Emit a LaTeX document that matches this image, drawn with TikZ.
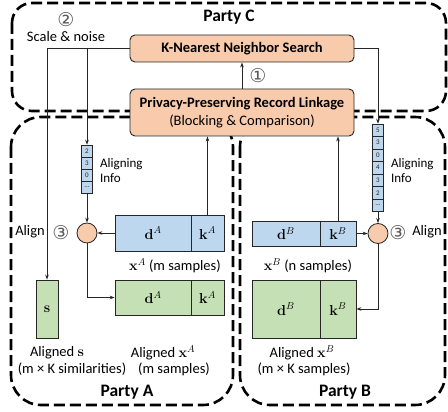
\documentclass[tikz,border=0pt]{standalone}
\usepackage[no-math]{fontspec}
\setmainfont{Carlito}
\newfontfamily\circfont{DejaVu Sans}
\usetikzlibrary{arrows.meta}
\definecolor{peach}{HTML}{F8CBAD}
\definecolor{paleblue}{HTML}{BDD7EE}
\definecolor{palegreen}{HTML}{C5E0B4}
\definecolor{ink}{HTML}{262626}
\newcommand{\txtsize}{\fontsize{14.5}{17}\selectfont}
\begin{document}
\begin{tikzpicture}[x=1pt,y=-1pt,
  party/.style={draw=black, line width=2.6pt, dash pattern=on 11pt off 5pt},
  proc/.style={draw=ink, fill=peach, line width=0.9pt, rounded corners=5pt,
    minimum width=224pt, inner sep=0pt, font=\txtsize, align=center},
  blk/.style={draw=ink, line width=0.8pt, inner sep=0pt, font=\txtsize},
  infocell/.style={draw=ink, fill=paleblue, line width=0.6pt, inner sep=0pt,
    minimum width=10.5pt, text=ink, font=\fontsize{7}{7}\selectfont},
  mixer/.style={circle, draw=ink, fill=peach, line width=0.8pt,
    minimum size=20pt, inner sep=0pt},
  lbl/.style={font=\txtsize, inner sep=0pt},
  stepno/.style={font=\circfont\fontsize{19}{19}\selectfont, text=black!65, inner sep=0pt},
  partyname/.style={font=\bfseries\fontsize{17.5}{20}\selectfont, inner sep=0pt},
  arr/.style={-{Stealth[length=5pt,width=3.6pt]}, line width=0.8pt, draw=ink},
]
\useasboundingbox (0,0) rectangle (448,412);

% party outlines
\draw[party, rounded corners=20pt] (12,3) rectangle (446,111);
\draw[party, rounded corners=30pt] (11,117) rectangle (233,405);
\draw[party, rounded corners=30pt] (240,117) rectangle (445,405);

% party C processes
\node[proc, minimum height=27pt, font=\bfseries\txtsize] (knn) at (242,48.5)
  {K-Nearest Neighbor Search};
\node[proc, minimum height=47pt, font=\fontsize{14.5}{18}\selectfont] (pprl) at (242,112.5)
  {\textbf{Privacy-Preserving Record Linkage}\\(Blocking \& Comparison)};

% aligning info columns
\foreach \v [count=\i] in {2,3,0,\ldots}
  \node[infocell, minimum height=12pt] (infoA\i) at (87,{139+12*\i}) {\v};
\foreach \v [count=\i] in {5,3,0,4,3,2,\ldots}
  \node[infocell, minimum height=12.5pt] (infoB\i) at (378,{117.75+12.5*\i}) {\v};

% alignment operators
\node[mixer] (mixA) at (87,233) {};
\node[mixer] (mixB) at (378,233.5) {};

% party A data
\node[blk, fill=paleblue, minimum width=76pt, minimum height=36pt] (dA) at (153,233) {$\mathbf{d}^A$};
\node[blk, fill=paleblue, minimum width=33pt, minimum height=36pt] (kA) at (207.5,233) {$\mathbf{k}^A$};
\node[blk, fill=palegreen, minimum width=76pt, minimum height=35pt] (adA) at (153,297.5) {$\mathbf{d}^A$};
\node[blk, fill=palegreen, minimum width=33pt, minimum height=35pt] (akA) at (207.5,297.5) {$\mathbf{k}^A$};
\node[blk, fill=palegreen, minimum width=22pt, minimum height=58pt] (sim) at (47,309) {$\mathbf{s}$};

% party B data
\node[blk, fill=paleblue, minimum width=68pt, minimum height=25pt] (dB) at (286,233.5) {$\mathbf{d}^B$};
\node[blk, fill=paleblue, minimum width=36pt, minimum height=25pt] (kB) at (338,233.5) {$\mathbf{k}^B$};
\node[blk, fill=palegreen, minimum width=68pt, minimum height=58pt] (adB) at (286,309) {$\mathbf{d}^B$};
\node[blk, fill=palegreen, minimum width=36pt, minimum height=58pt] (akB) at (338,309) {$\mathbf{k}^B$};

% connectors
\draw[arr] (pprl.north) -- (knn.south);
\draw[arr] (knn.west) -| (sim.north);
\draw[arr] (knn.west -| infoA1.north) -- (infoA1.north);
\draw[arr] (knn.east) -| (infoB1.north);
\draw[arr] (infoA4.south) -- (mixA.north);
\draw[arr] (infoB7.south) -- (mixB.north);
\draw[arr] (dA.west) -- (mixA.east);
\draw[arr] (kB.east) -- (mixB.west);
\draw[arr] (kA.north) -- (kA.north |- pprl.south);
\draw[arr] (kB.north) -- (kB.north |- pprl.south);
\draw[arr] (mixA.south) |- (adA.west);
\draw[arr] (mixB.south) |- (akB.east);

% labels
\node[partyname] (nameC) at (229,17) {Party C};
\node[stepno] (step2) at (66,20) {②};
\node[lbl] (scalenoise) at (66,37) {Scale \& noise};
\node[stepno] (step1) at (258,76) {①};

\node[lbl, font=\fontsize{13}{15}\selectfont, anchor=west, align=left] (infoAlab) at (100,171) {Aligning\\Info};
\node[stepno] (step3a) at (61,233) {③};
\node[lbl] (alignA) at (30,232) {Align};
\node[lbl] (xAlab) at (175,266) {$\mathbf{x}^A$ (m samples)};
\node[lbl] (aslab1) at (57,353) {Aligned $\mathbf{s}$};
\node[lbl] (aslab2) at (72,369) {(m × K similarities)};
\node[lbl] (axAlab1) at (163,353) {Aligned $\mathbf{x}^A$};
\node[lbl] (axAlab2) at (174,369) {(m samples)};
\node[partyname] (nameA) at (127,392) {Party A};

\node[lbl, font=\fontsize{13}{15}\selectfont, anchor=west, align=left] (infoBlab) at (391,171) {Aligning\\Info};
\node[stepno] (step3b) at (398,233) {③};
\node[lbl] (alignB) at (427,232) {Align};
\node[lbl] (xBlab) at (308,266) {$\mathbf{x}^B$ (n samples)};
\node[lbl] (axBlab1) at (302,353) {Aligned $\mathbf{x}^B$};
\node[lbl] (axBlab2) at (304,369) {(m × K samples)};
\node[partyname] (nameB) at (345,392) {Party B};
\end{tikzpicture}
\end{document}
